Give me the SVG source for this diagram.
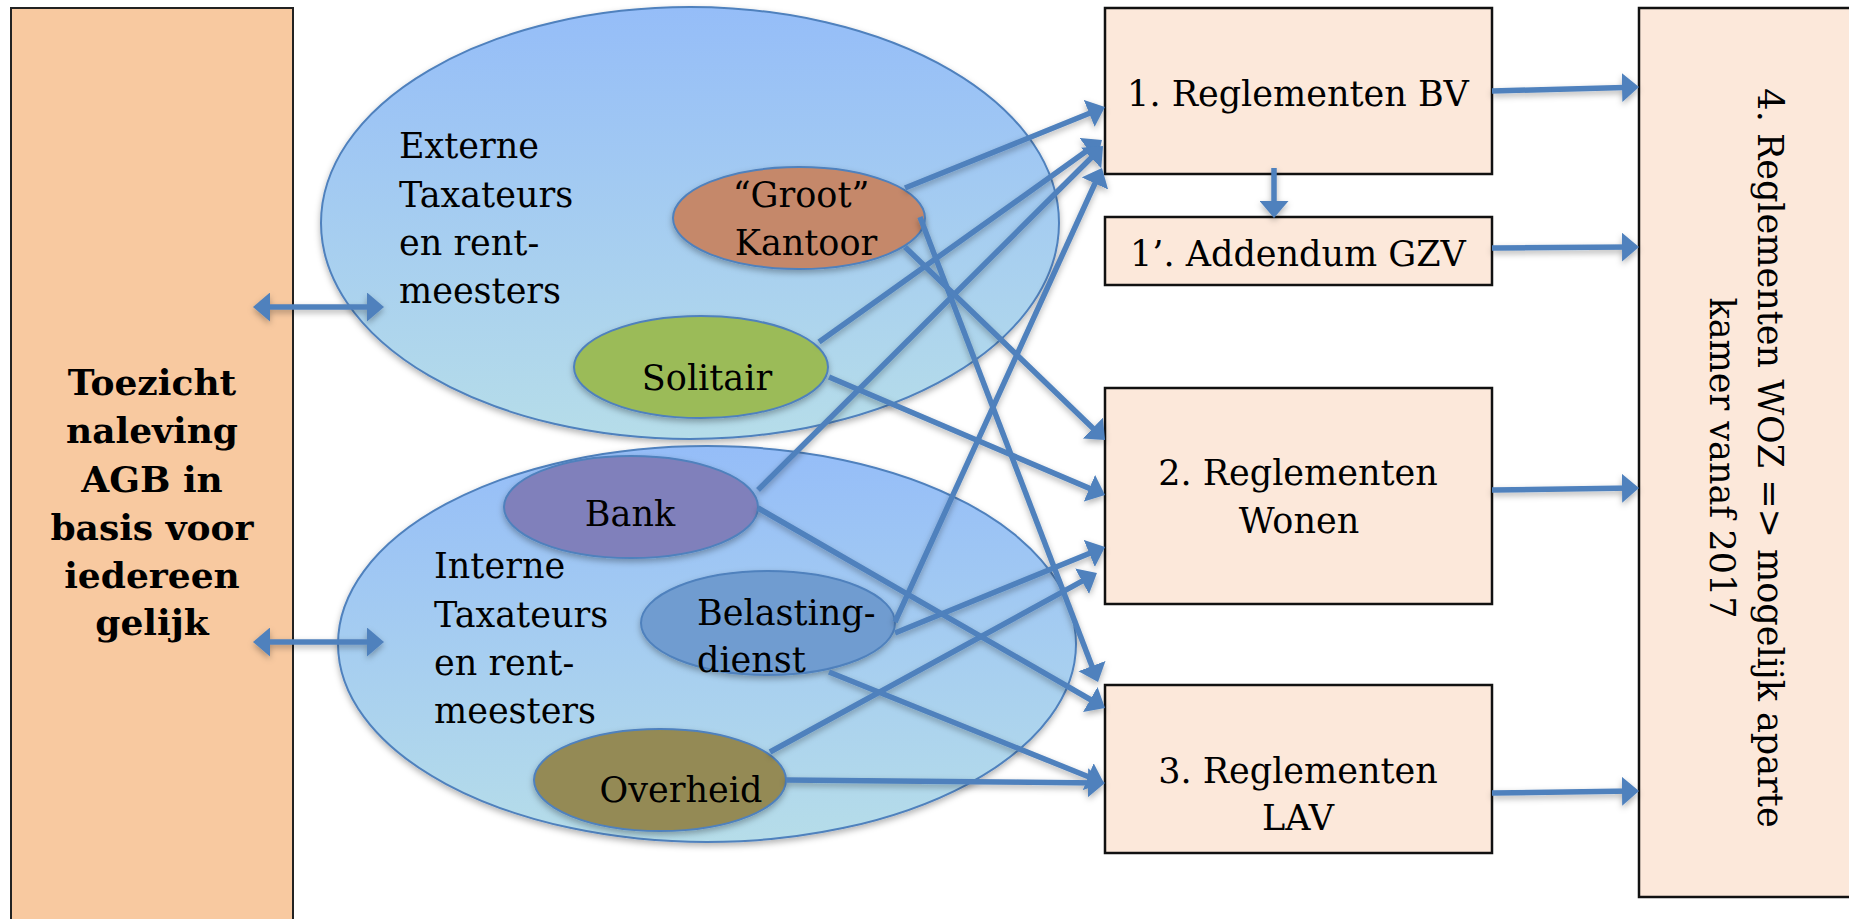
<svg xmlns="http://www.w3.org/2000/svg" width="1849" height="919" viewBox="0 0 1849 919">
<defs>
<linearGradient id="gBig" x1="0" y1="0" x2="0" y2="1">
<stop offset="0" stop-color="#95BDF8"/>
<stop offset="1" stop-color="#B6DDE9"/>
</linearGradient>
<filter id="sh" x="-10%" y="-10%" width="120%" height="130%">
<feDropShadow dx="0" dy="3" stdDeviation="3" flood-color="#000" flood-opacity="0.3"/>
</filter>
<marker id="ah" markerUnits="userSpaceOnUse" markerWidth="18" markerHeight="29" refX="11" refY="14.5" orient="auto-start-reverse" viewBox="0 0 18 29">
<path d="M0,0 L17,14.5 L0,29 z" fill="#4F81BD"/>
</marker>
<style>
.box{fill:#FCE8DA;stroke:#111;stroke-width:2.5}
.ell{stroke:#4F81BD;stroke-width:2}
.t{font-family:"DejaVu Serif","Liberation Serif",serif;font-size:35px;fill:#000}
.c{text-anchor:middle}
.b{font-weight:bold;font-size:36px}
.con line{stroke:#4F81BD;stroke-width:5.5;fill:none;marker-end:url(#ah)}
</style>
</defs>

<g id="toezicht">
<rect x="11" y="8" width="282" height="930" fill="#F8C9A0" stroke="#222" stroke-width="2"/>
<text class="t c b" x="152"><tspan x="152" y="395">Toezicht</tspan><tspan x="152" y="443">naleving</tspan><tspan x="152" y="492">AGB in</tspan><tspan x="152" y="540">basis voor</tspan><tspan x="152" y="588">iedereen</tspan><tspan x="152" y="635">gelijk</tspan></text>
</g>

<g id="extern">
<ellipse class="ell" cx="690" cy="223" rx="369" ry="216" fill="url(#gBig)" filter="url(#sh)"/>
<text class="t"><tspan x="399" y="158">Externe</tspan><tspan x="399" y="207">Taxateurs</tspan><tspan x="399" y="255">en rent-</tspan><tspan x="399" y="303">meesters</tspan></text>
</g>

<g id="groot">
<ellipse class="ell" cx="799" cy="218" rx="126" ry="51" fill="#C5886A" filter="url(#sh)"/>
<text class="t c"><tspan x="801" y="207">“Groot”</tspan><tspan x="806" y="255">Kantoor</tspan></text>
</g>

<g id="solitair">
<ellipse class="ell" cx="701" cy="367" rx="127" ry="51" fill="#9BBB59" filter="url(#sh)"/>
<text class="t c" x="707" y="390">Solitair</text>
</g>

<g id="intern">
<ellipse class="ell" cx="707" cy="644" rx="369" ry="198" fill="url(#gBig)" filter="url(#sh)"/>
<text class="t"><tspan x="434" y="578">Interne</tspan><tspan x="434" y="627">Taxateurs</tspan><tspan x="434" y="675">en rent-</tspan><tspan x="434" y="723">meesters</tspan></text>
</g>

<g id="bank">
<ellipse class="ell" cx="631" cy="507" rx="127" ry="51" fill="#8080BB" filter="url(#sh)"/>
<text class="t c" x="630" y="526">Bank</text>
</g>

<g id="belastingdienst">
<ellipse class="ell" cx="768" cy="623" rx="127" ry="52" fill="#6F9CD0" filter="url(#sh)"/>
<text class="t"><tspan x="697" y="625">Belasting-</tspan><tspan x="697" y="672">dienst</tspan></text>
</g>

<g id="overheid">
<ellipse class="ell" cx="660" cy="780" rx="126" ry="51" fill="#948A54" filter="url(#sh)"/>
<text class="t c" x="681" y="802">Overheid</text>
</g>

<g id="box1">
<rect class="box" x="1105" y="8" width="387" height="166"/>
<text class="t c" x="1298" y="106">1. Reglementen BV</text>
</g>

<g id="box1a">
<rect class="box" x="1105" y="217" width="387" height="68"/>
<text class="t c" x="1298" y="266">1’. Addendum GZV</text>
</g>

<g id="box2">
<rect class="box" x="1105" y="388" width="387" height="216"/>
<text class="t c"><tspan x="1298" y="485">2. Reglementen</tspan><tspan x="1299" y="533">Wonen</tspan></text>
</g>

<g id="box3">
<rect class="box" x="1105" y="685" width="387" height="168"/>
<text class="t c"><tspan x="1298" y="783">3. Reglementen</tspan><tspan x="1298" y="830">LAV</tspan></text>
</g>

<g id="box4">
<rect class="box" x="1639" y="8" width="230" height="889"/>
<text class="t c" transform="translate(1758,458) rotate(90)"><tspan x="0" y="0">4. Reglementen WOZ =&gt; mogelijk aparte</tspan><tspan x="0" y="48">kamer vanaf 2017</tspan></text>
</g>

<g id="connectors" class="con" filter="url(#sh)">
<line x1="259" y1="307" x2="378" y2="307" style="marker-start:url(#ah)"/>
<line x1="259" y1="642" x2="378" y2="642" style="marker-start:url(#ah)"/>
<line x1="905" y1="188" x2="1099.4" y2="109.3"/>
<line x1="819" y1="342" x2="1097.1" y2="143.5"/>
<line x1="758" y1="490" x2="1098.8" y2="150.2"/>
<line x1="895" y1="622" x2="1099.5" y2="173.5"/>
<line x1="920" y1="217" x2="1095.9" y2="676.4"/>
<line x1="905" y1="247" x2="1100.7" y2="435.8"/>
<line x1="829" y1="377" x2="1099.5" y2="492.6"/>
<line x1="895" y1="633" x2="1099.5" y2="549.3"/>
<line x1="770" y1="752" x2="1091.7" y2="575.9"/>
<line x1="758" y1="508" x2="1099.8" y2="705"/>
<line x1="829" y1="672" x2="1098.4" y2="780.8"/>
<line x1="786" y1="780" x2="1099" y2="782.9"/>
<line x1="1274" y1="168" x2="1274" y2="212"/>
<line x1="1492" y1="91" x2="1633" y2="87.2"/>
<line x1="1492" y1="248" x2="1633" y2="247"/>
<line x1="1492" y1="490" x2="1633" y2="488.1"/>
<line x1="1492" y1="793" x2="1633" y2="791.1"/>
</g>
</svg>
